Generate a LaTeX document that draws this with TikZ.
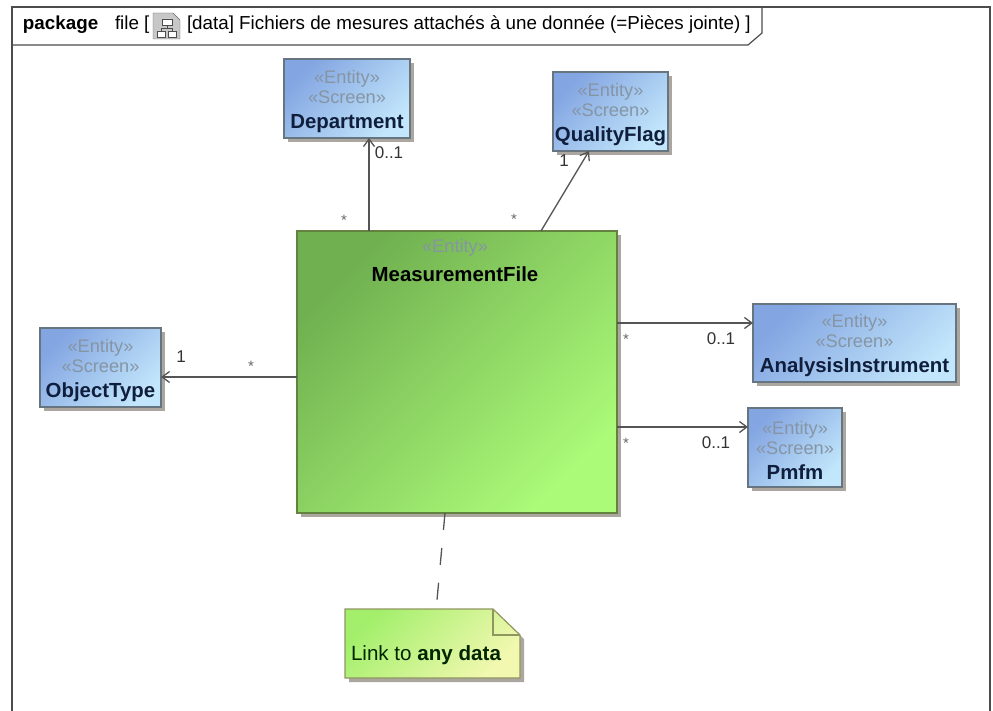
\documentclass[tikz,border=0pt]{standalone}
\usepackage{fontspec}
\setmainfont{Liberation Sans}
\usepackage{tikz}
\usetikzlibrary{arrows.meta,shadows}

\begin{document}
\begin{tikzpicture}[x=1pt, y=-1pt,
    %Option for open arrows
    >={Straight Barb[length=7.5pt,width=11pt]}, %
    inner sep=0pt, outer sep=0pt,%
    every node/.style={font=\fontsize{18.8}{20}\selectfont},
    link/.style={line width=1.3pt,color=linegray,->},
    entity/.style={draw=boxline,line width=1.2pt,align=center,text=titleblue,
        left color=bluedark,right color=bluelight,shading angle=45,
        drop shadow={shadow xshift=4pt,shadow yshift=-4pt,fill=shadowgray,opacity=1}},
    mult/.style={text=black!80,font=\fontsize{17}{20}\selectfont},
    star/.style={text=black!60,font=\fontsize{15}{16}\selectfont},
    notetext/.style={font=\fontsize{20.6}{24}\selectfont,text=black!85!green},
]
    % Colors
    \definecolor{bluedark}{HTML}{83A5E2}
    \definecolor{bluelight}{HTML}{C2E6FB}
    \definecolor{greendark}{HTML}{70B050}
    \definecolor{greenlight}{HTML}{ABFA78}
    \definecolor{notedark}{HTML}{A3EF6C}
    \definecolor{notelight}{HTML}{F2F8B0}
    \definecolor{boxline}{HTML}{66757F}
    \definecolor{greenline}{HTML}{64823F}
    \definecolor{noteline}{HTML}{90965F}
    \definecolor{linegray}{HTML}{555555}
    \definecolor{shadowgray}{HTML}{ABA69F}
    \definecolor{stereogray}{HTML}{8695A4}
    \definecolor{titleblue}{HTML}{0F1E3C}
    \newcommand{\stereo}[1]{{\fontsize{18.2}{20}\selectfont\color{stereogray}#1}}
    \newcommand{\classname}[1]{{\fontsize{20.4}{20}\selectfont\textbf{#1}}}
    \newcommand{\entitylabel}[1]{\rule{0pt}{19pt}\stereo{«Entity»}\\\stereo{«Screen»}\\[5pt]\classname{#1}}

    \useasboundingbox (0,0) rectangle (993,711);

    % Frame
    \draw[line width=1.2pt,color=black!70] (12,711) -- (12,7) -- (990,7) -- (990,711);
    \draw[line width=1.2pt,color=black!70] (12,45) -- (748,45) -- (762,33) -- (762,7);
    \node[anchor=base west] (PackageWord) at (23,30) {\textbf{package}};
    \node[anchor=base west] (FileWord) at (115,30) {file [};
    \node[anchor=base west] (FrameTitle) at (187,30) {[data] Fichiers de mesures attachés à une donnée (=Pièces jointe) ]};

    % Diagram icon
    \draw[color=black!60,fill=black!22] (153,13) -- (173,13) -- (180,20) -- (180,39) -- (153,39) -- cycle;
    \draw[color=black!70,fill=white] (162,19) rectangle (172,25) (157,31) rectangle (165,37) (168,31) rectangle (176,37);
    \draw[color=black!70] (167,25) -- (167,28) (161,31) -- (161,28) -- (172,28) -- (172,31);

    % Classes
    \node[entity,minimum width=126pt,minimum height=79pt] (Department) at (347,98.5) {\entitylabel{Department}};
    \node[entity,minimum width=115pt,minimum height=79pt] (QualityFlag) at (610.5,111.5) {\entitylabel{QualityFlag}};
    \node[entity,minimum width=203pt,minimum height=78pt] (AnalysisInstrument) at (854.5,343) {\entitylabel{AnalysisInstrument}};
    \node[entity,minimum width=94pt,minimum height=79pt] (Pmfm) at (795,447.5) {\entitylabel{Pmfm}};
    \node[entity,minimum width=121pt,minimum height=79pt] (ObjectType) at (100.5,367.5) {\entitylabel{ObjectType}};
    \node[entity,minimum width=320pt,minimum height=282pt,draw=greenline,
        left color=greendark,right color=greenlight,shading angle=45] (MeasurementFile) at (457,372) {};
    \node[align=center,anchor=north] (MeasurementTitle) at (455,239)
        {\stereo{«Entity»}\\[9pt]\classname{MeasurementFile}};

    % Note
    \node[minimum width=175pt,minimum height=69pt] (LinkNote) at (432.5,643.5) {};
    \fill[shadowgray] ([xshift=4pt,yshift=-4pt]LinkNote.north west) -- ([xshift=-23pt,yshift=-4pt]LinkNote.north east)
        -- ([xshift=4pt,yshift=-30pt]LinkNote.north east) -- ([xshift=4pt,yshift=-4pt]LinkNote.south east)
        -- ([xshift=4pt,yshift=-4pt]LinkNote.south west) -- cycle;
    \draw[line width=1.2pt,draw=noteline,left color=notedark,right color=notelight,shading angle=45]
        (LinkNote.north west) -- ([xshift=-27pt]LinkNote.north east) -- ([yshift=-26pt]LinkNote.north east)
        -- (LinkNote.south east) -- (LinkNote.south west) -- cycle;
    \draw[line width=1.2pt,draw=noteline] ([xshift=-27pt]LinkNote.north east) -- ++(0,26) -- ++(27,0);
    \node[notetext,anchor=base west] (NoteText) at (351,660) {Link to \textbf{any data}};

    % Associations
    \draw[link] ([xshift=22pt]Department.south |- MeasurementFile.north) -- ([xshift=22pt]Department.south);
    \draw[link] ([xshift=84pt]MeasurementFile.north) -- ([xshift=-21.5pt]QualityFlag.south);
    \draw[link] (MeasurementFile.east |- {(0,323)}) -- (AnalysisInstrument.west |- {(0,323)});
    \draw[link] (MeasurementFile.east |- {(0,427)}) -- (Pmfm.west |- {(0,427)});
    \draw[link] (MeasurementFile.west |- {(0,377)}) -- (ObjectType.east |- {(0,377)});
    \draw[line width=1.3pt,color=linegray,dash pattern=on 17pt off 18pt] ([xshift=-12pt]MeasurementFile.south) -- ([xshift=4.5pt,yshift=9pt]LinkNote.north);

    % Multiplicities
    \node[mult] (DeptOne) at (389,153) {0..1};
    \node[star] (DeptMany) at (344,220) {*};
    \node[mult] (FlagOne) at (564,161) {1};
    \node[star] (FlagMany) at (514,219) {*};
    \node[star] (InstrMany) at (626,339) {*};
    \node[mult] (InstrOne) at (721,339) {0..1};
    \node[star] (PmfmMany) at (626,443) {*};
    \node[mult] (PmfmOne) at (716,443) {0..1};
    \node[mult] (TypeOne) at (181,357) {1};
    \node[star] (TypeMany) at (251,366) {*};
\end{tikzpicture}
\end{document}
